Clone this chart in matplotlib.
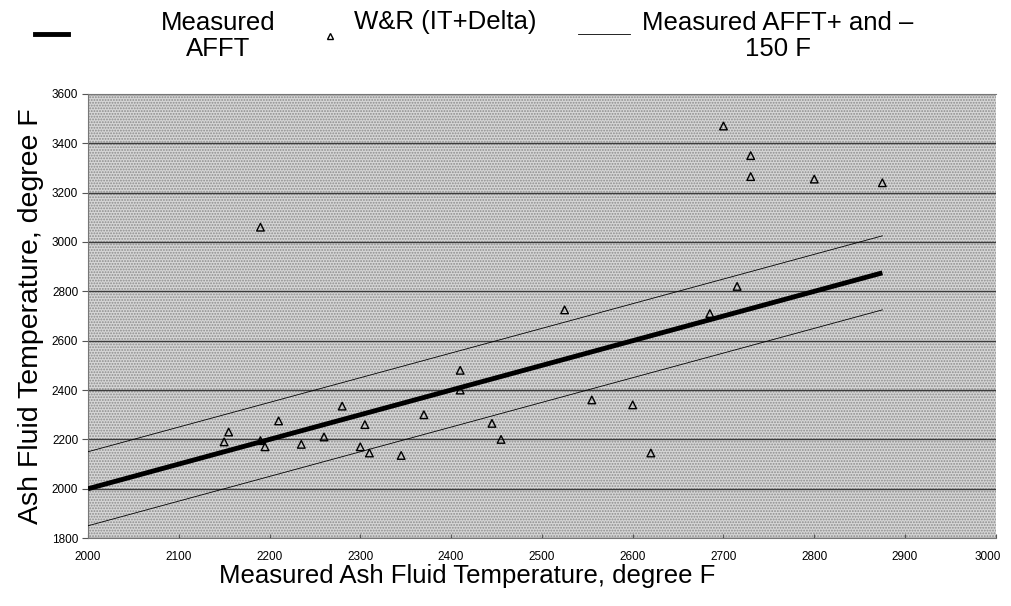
import matplotlib
matplotlib.use("Agg")
import matplotlib.pyplot as plt
from matplotlib.lines import Line2D
from matplotlib.patches import Rectangle
from matplotlib.transforms import ScaledTranslation
import numpy as np

# Data
measured = [2150, 2155, 2190, 2190, 2195, 2210, 2235, 2260, 2280, 2300, 2305, 2310,
            2345, 2370, 2410, 2410, 2445, 2455, 2525, 2555, 2600, 2620, 2685, 2700,
            2715, 2730, 2730, 2800, 2875]
predicted = [2190, 2230, 3060, 2195, 2170, 2275, 2180, 2210, 2335, 2170, 2260, 2145,
             2135, 2300, 2480, 2400, 2265, 2200, 2725, 2360, 2340, 2145, 2710, 3470,
             2820, 3350, 3265, 3255, 3240]
line_x = [2000, 2875]
band = 150

x_ticks = list(range(2000, 3001, 100))
y_ticks = list(range(1800, 3601, 200))

plt.rcParams['font.family'] = ['Liberation Sans', 'DejaVu Sans']
plt.rcParams['hatch.linewidth'] = 0.9

fig = plt.figure(figsize=(10.11, 6.06), dpi=100)
ax = fig.add_axes([0.087, 0.112, 0.898, 0.733])
ax.set_facecolor('#d0d0d0')
ax.add_patch(Rectangle((0, 0), 1, 1, transform=ax.transAxes, facecolor='#d6d6d6',
                       edgecolor='#8c8c8c', linewidth=0, hatch='......', zorder=0.1))
ax.set_xlim(2000, 3000)
ax.set_ylim(1800, 3600)
ax.set_xticks(x_ticks)
ax.set_yticks(y_ticks)
ax.tick_params(labelsize=8.5, color='#555555')
ax.tick_params(axis='y', length=4, pad=3)
ax.tick_params(axis='x', length=3, direction='in', pad=9)
ax.yaxis.grid(True, color='#3c3c3c', linewidth=1.0, zorder=0.5)
ax.set_axisbelow(True)
for s in ax.spines.values():
    s.set_color('#777777')
    s.set_linewidth(0.8)
ax.spines['right'].set_visible(False)
fig.canvas.draw()
last = ax.get_xticklabels()[-1]
last.set_transform(last.get_transform() + ScaledTranslation(-8 / 100, 0, fig.dpi_scale_trans))

lx = np.array(line_x)
ax.plot(lx, lx, color='black', linewidth=3.5, solid_capstyle='butt', zorder=3)
ax.plot(lx, lx + band, color='black', linewidth=0.6, zorder=3)
ax.plot(lx, lx - band, color='black', linewidth=0.6, zorder=3)
ax.scatter(measured, predicted, marker='^', s=30, facecolors='none',
           edgecolors='black', linewidths=1.0, zorder=4, clip_on=False)

ax.set_xlabel('Measured Ash Fluid Temperature, degree F', fontsize=18.5)
ax.xaxis.set_label_coords(0.418, -0.058)
ax.set_ylabel('Ash Fluid Temperature, degree F', fontsize=20.5, labelpad=6)

# Legend (manual, figure coordinates)
W, H = 1011, 606
def fx(p): return p / W
def fy(p): return 1 - p / H
fig.add_artist(Line2D([fx(35), fx(68)], [fy(34), fy(34)], color='black', linewidth=3.5,
                      transform=fig.transFigure))
fig.text(fx(218), fy(36), 'Measured\nAFFT', ha='center', va='center', fontsize=18.5,
         multialignment='center', linespacing=1.15)
fig.add_artist(Line2D([fx(330)], [fy(36)], marker='^', markersize=5, markerfacecolor='none',
                      markeredgecolor='black', linestyle='none', transform=fig.transFigure))
fig.text(fx(354), fy(22), 'W&R (IT+Delta)', ha='left', va='center', fontsize=18.5)
fig.add_artist(Line2D([fx(578), fx(630)], [fy(34), fy(34)], color='black', linewidth=0.6,
                      transform=fig.transFigure))
fig.text(fx(778), fy(36), 'Measured AFFT+ and \u2013\n150 F', ha='center', va='center',
         fontsize=18.5, multialignment='center', linespacing=1.15)

fig.savefig('out.png', dpi=100)
